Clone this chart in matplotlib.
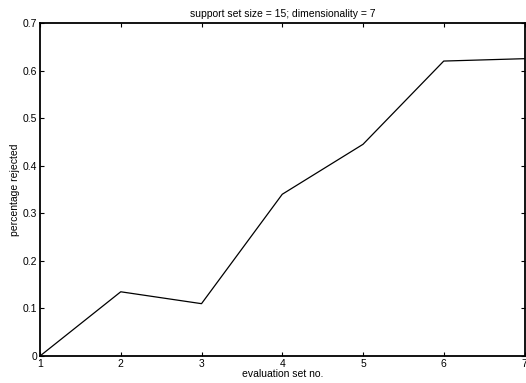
import matplotlib
matplotlib.use("Agg")
import matplotlib.pyplot as plt

plt.rcParams["font.family"] = ["Liberation Sans", "DejaVu Sans"]

eval_set = [1, 2, 3, 4, 5, 6, 7]
pct_rejected = [0.0, 0.135, 0.11, 0.34, 0.445, 0.62, 0.625]

fig = plt.figure(figsize=(5.26, 3.83), dpi=100)
ax = fig.add_axes([40 / 526, 27 / 383, 484.5 / 526, 333 / 383])

ax.plot(eval_set, pct_rejected, color="black", linewidth=0.9)

ax.set_xlim(1, 7)
ax.set_ylim(0, 0.7)
ax.set_xticks(eval_set)
ax.set_yticks([0, 0.1, 0.2, 0.3, 0.4, 0.5, 0.6, 0.7])
ax.set_yticklabels(["0", "0.1", "0.2", "0.3", "0.4", "0.5", "0.6", "0.7"])

ax.tick_params(direction="in", top=True, right=True, length=3, width=0.8,
               labelsize=7.5, pad=2, colors="black")
for sp in ax.spines.values():
    sp.set_linewidth(1.3)

ax.set_xlabel("evaluation set no.", fontsize=7.5, labelpad=0)
ax.set_ylabel("percentage rejected", fontsize=7.5, labelpad=2)
ax.set_title("support set size = 15; dimensionality = 7", fontsize=7.5, pad=4)

fig.savefig("out.png", dpi=100)
